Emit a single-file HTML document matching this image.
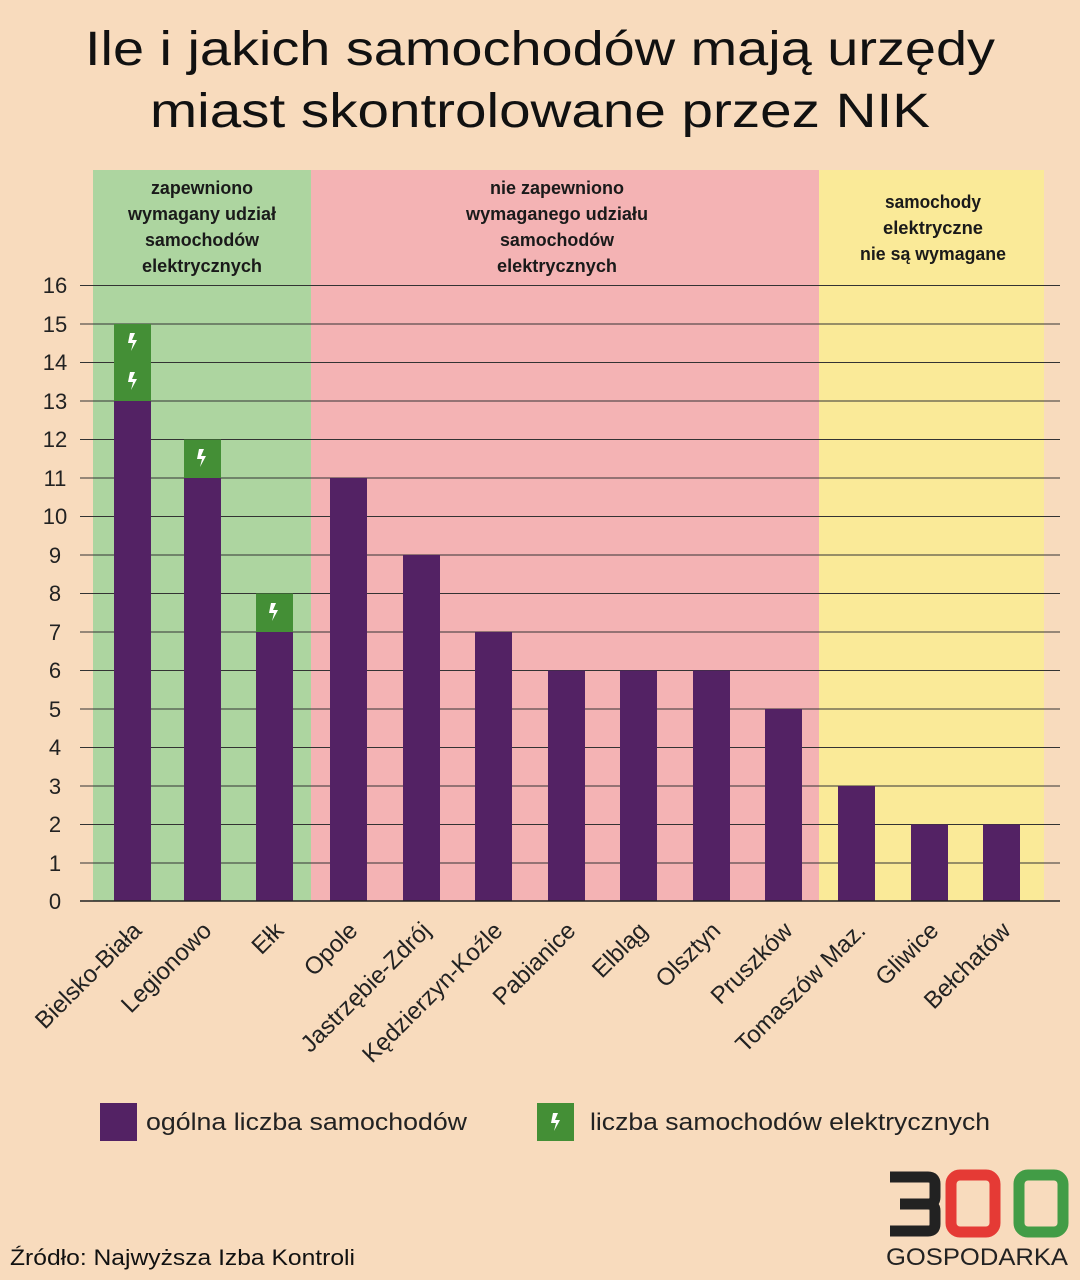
<!DOCTYPE html>
<html><head><meta charset="utf-8"><style>
body{margin:0;background:#f8dbbd;}
svg{display:block}
</style></head><body>
<svg width="1080" height="1280" xmlns="http://www.w3.org/2000/svg" font-family="Liberation Sans, sans-serif">
<rect width="1080" height="1280" fill="#f8dbbd"/>
<text x="85" y="65" font-size="48" textLength="910" lengthAdjust="spacingAndGlyphs" fill="#111">Ile i jakich samochodów mają urzędy</text>
<text x="150" y="127" font-size="48" textLength="780" lengthAdjust="spacingAndGlyphs" fill="#111">miast skontrolowane przez NIK</text>
<rect x="93" y="170" width="218" height="731" fill="#add5a0"/>
<rect x="311" y="170" width="508" height="731" fill="#f4b3b4"/>
<rect x="819" y="170" width="225" height="731" fill="#faea98"/>
<g font-size="18" font-weight="bold" text-anchor="middle" fill="#1a1a1a">
<text x="202" y="194" textLength="102" lengthAdjust="spacingAndGlyphs">zapewniono</text><text x="202" y="220" textLength="148" lengthAdjust="spacingAndGlyphs">wymagany udział</text><text x="202" y="246" textLength="114" lengthAdjust="spacingAndGlyphs">samochodów</text><text x="202" y="272" textLength="120" lengthAdjust="spacingAndGlyphs">elektrycznych</text>
<text x="557" y="194" textLength="134" lengthAdjust="spacingAndGlyphs">nie zapewniono</text><text x="557" y="220" textLength="182" lengthAdjust="spacingAndGlyphs">wymaganego udziału</text><text x="557" y="246" textLength="114" lengthAdjust="spacingAndGlyphs">samochodów</text><text x="557" y="272" textLength="120" lengthAdjust="spacingAndGlyphs">elektrycznych</text>
<text x="933" y="208" textLength="96" lengthAdjust="spacingAndGlyphs">samochody</text><text x="933" y="234" textLength="100" lengthAdjust="spacingAndGlyphs">elektryczne</text><text x="933" y="260" textLength="146" lengthAdjust="spacingAndGlyphs">nie są wymagane</text>
</g>
<g stroke="#333" stroke-width="1">
<line x1="80" y1="285.5" x2="1060" y2="285.5"/><line x1="80" y1="324" x2="1060" y2="324"/><line x1="80" y1="362.5" x2="1060" y2="362.5"/><line x1="80" y1="401" x2="1060" y2="401"/><line x1="80" y1="439.5" x2="1060" y2="439.5"/><line x1="80" y1="478" x2="1060" y2="478"/><line x1="80" y1="516.5" x2="1060" y2="516.5"/><line x1="80" y1="555" x2="1060" y2="555"/><line x1="80" y1="593.5" x2="1060" y2="593.5"/><line x1="80" y1="632" x2="1060" y2="632"/><line x1="80" y1="670.5" x2="1060" y2="670.5"/><line x1="80" y1="709" x2="1060" y2="709"/><line x1="80" y1="747.5" x2="1060" y2="747.5"/><line x1="80" y1="786" x2="1060" y2="786"/><line x1="80" y1="824.5" x2="1060" y2="824.5"/><line x1="80" y1="863" x2="1060" y2="863"/>
</g>
<g font-size="22" fill="#222" text-anchor="middle">
<text x="55" y="293">16</text><text x="55" y="332">15</text><text x="55" y="370">14</text><text x="55" y="409">13</text><text x="55" y="447">12</text><text x="55" y="486">11</text><text x="55" y="524">10</text><text x="55" y="563">9</text><text x="55" y="601">8</text><text x="55" y="640">7</text><text x="55" y="678">6</text><text x="55" y="717">5</text><text x="55" y="755">4</text><text x="55" y="794">3</text><text x="55" y="832">2</text><text x="55" y="871">1</text><text x="55" y="909">0</text>
</g>
<defs><g id="bolt"><path d="M-3,-9 L2,-9 L-1,-2 L4,-2 L-2,9 L0,1 L-5,1 Z" fill="#fff"/></g></defs>
<g fill="#532264">
<rect x="114" y="401" width="37" height="500"/>
<rect x="184" y="478" width="37" height="423"/>
<rect x="256" y="632" width="37" height="269"/>
<rect x="330" y="478" width="37" height="423"/>
<rect x="403" y="555" width="37" height="346"/>
<rect x="475" y="632" width="37" height="269"/>
<rect x="548" y="670.5" width="37" height="230.5"/>
<rect x="620" y="670.5" width="37" height="230.5"/>
<rect x="693" y="670.5" width="37" height="230.5"/>
<rect x="765" y="709" width="37" height="192"/>
<rect x="838" y="786" width="37" height="115"/>
<rect x="911" y="824.5" width="37" height="76.5"/>
<rect x="983" y="824.5" width="37" height="76.5"/>
</g>
<g fill="#448f36">
<rect x="114" y="324" width="37" height="77"/>
<rect x="184" y="439.5" width="37" height="38.5"/>
<rect x="256" y="593.5" width="37" height="38.5"/>
<rect x="537" y="1103" width="37" height="38"/>
</g>
<use href="#bolt" x="133" y="342"/><use href="#bolt" x="133" y="381"/><use href="#bolt" x="202" y="458"/><use href="#bolt" x="274" y="612"/><use href="#bolt" x="556" y="1122"/>
<line x1="80" y1="901" x2="1060" y2="901" stroke="#222" stroke-width="1.5"/>
<g font-size="24" fill="#222" text-anchor="end">
<text transform="translate(143,932) rotate(-45)">Bielsko-Biała</text>
<text transform="translate(213,932) rotate(-45)">Legionowo</text>
<text transform="translate(285,932) rotate(-45)">Ełk</text>
<text transform="translate(359,932) rotate(-45)">Opole</text>
<text transform="translate(432,932) rotate(-45)">Jastrzębie-Zdrój</text>
<text transform="translate(504,932) rotate(-45)">Kędzierzyn-Koźle</text>
<text transform="translate(577,932) rotate(-45)">Pabianice</text>
<text transform="translate(649,932) rotate(-45)">Elbląg</text>
<text transform="translate(722,932) rotate(-45)">Olsztyn</text>
<text transform="translate(794,932) rotate(-45)">Pruszków</text>
<text transform="translate(867,932) rotate(-45)">Tomaszów Maz.</text>
<text transform="translate(940,932) rotate(-45)">Gliwice</text>
<text transform="translate(1012,932) rotate(-45)">Bełchatów</text>
</g>
<rect x="100" y="1103" width="37" height="38" fill="#532264"/>
<text x="146" y="1130" font-size="24" textLength="321" lengthAdjust="spacingAndGlyphs" fill="#222">ogólna liczba samochodów</text>
<text x="590" y="1130" font-size="24" textLength="400" lengthAdjust="spacingAndGlyphs" fill="#222">liczba samochodów elektrycznych</text>
<text x="10" y="1265" font-size="22" textLength="345" lengthAdjust="spacingAndGlyphs" fill="#111">Źródło: Najwyższa Izba Kontroli</text>
<g fill="none" stroke-width="11">
<path d="M890,1177 H928 Q935,1177 935,1184 V1197 Q935,1204 928,1204 H900 M928,1204 Q935,1204 935,1211 V1224 Q935,1231 928,1231 H890" stroke="#222"/>
<rect x="951" y="1175" width="44" height="57" rx="9" stroke="#e53a35"/>
<rect x="1019" y="1175" width="44" height="57" rx="9" stroke="#429c46"/>
</g>
<text x="886" y="1265" font-size="24" textLength="182" lengthAdjust="spacingAndGlyphs" fill="#222">GOSPODARKA</text>
</svg>
</body></html>
